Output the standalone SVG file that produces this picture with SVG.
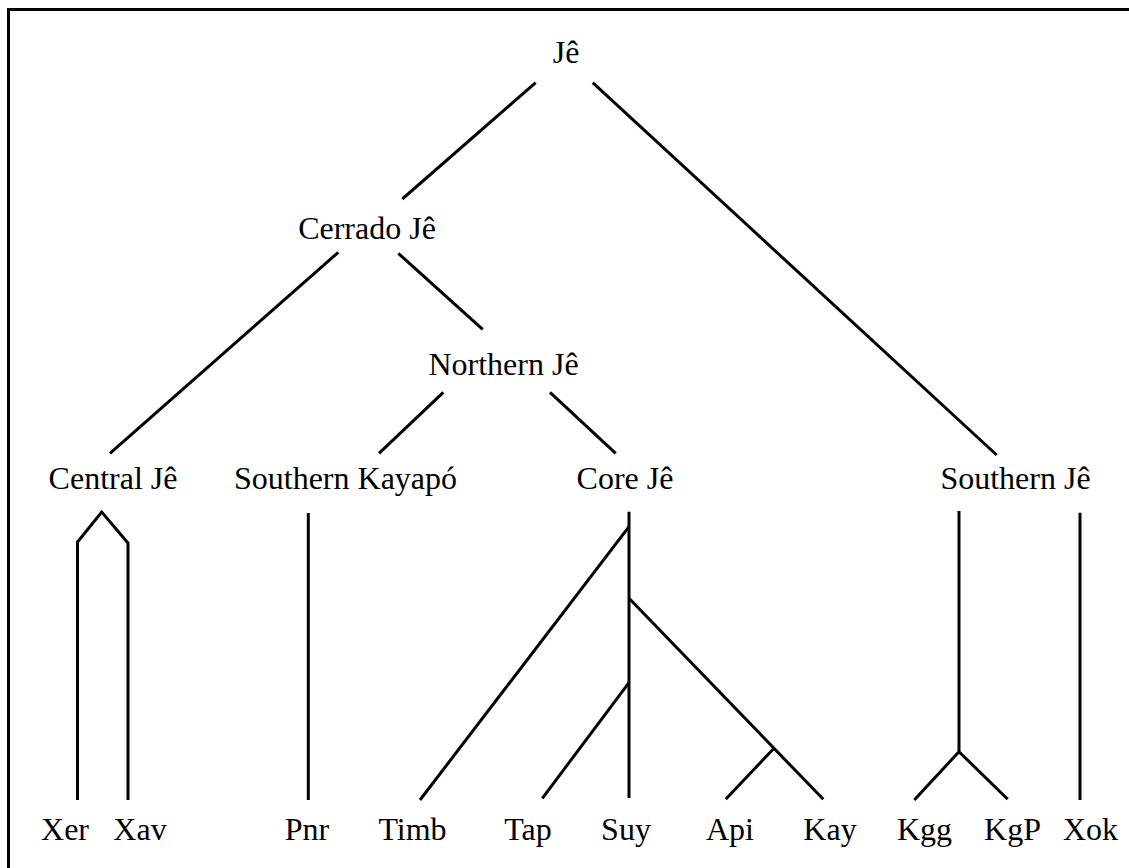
<svg xmlns="http://www.w3.org/2000/svg" width="1129" height="868" viewBox="0 0 1129 868">
<style>
.e{fill:none;stroke:#000;stroke-width:3;stroke-linecap:butt;stroke-linejoin:miter}
.frame{fill:none;stroke:#000;stroke-width:3}
</style>
<rect width="1129" height="868" fill="#fff"/>
<path class="frame" d="M8.5,870 V9.5 H1132"/>
<g id="connectors">
<line class="e" x1="535.7" y1="82.7" x2="402.3" y2="199"/>
<line class="e" x1="592.7" y1="82.7" x2="996.7" y2="455"/>
<line class="e" x1="338.3" y1="252.3" x2="110" y2="453.3"/>
<line class="e" x1="398.3" y1="253.3" x2="482.7" y2="329.3"/>
<line class="e" x1="443.3" y1="392.3" x2="379" y2="453.3"/>
<line class="e" x1="550" y1="392.3" x2="615.7" y2="453.3"/>
<path class="e" d="M77.5,800 V542 L101.7,512 L128,543 V800"/>
<line class="e" x1="308.3" y1="513" x2="308.3" y2="800"/>
<line class="e" x1="629" y1="511.7" x2="629" y2="798"/>
<line class="e" x1="629" y1="526.7" x2="420" y2="800"/>
<line class="e" x1="629" y1="682.7" x2="542.3" y2="798.3"/>
<line class="e" x1="629" y1="598.3" x2="823.3" y2="799.3"/>
<line class="e" x1="773.3" y1="749" x2="725.7" y2="799.3"/>
<path class="e" d="M959,511 V751.7 L914.3,800 M959,751.7 L1007.7,799.3"/>
<line class="e" x1="1080" y1="512.7" x2="1080" y2="800"/>
</g>
<g font-family="Liberation Serif, Times New Roman, DejaVu Serif, serif" font-size="32" fill="#000" text-anchor="middle">
<g id="n-je"><text x="566" y="63">Jê</text></g>
<g id="n-cerrado"><text x="367" y="239">Cerrado Jê</text></g>
<g id="n-northern"><text x="503.5" y="375">Northern Jê</text></g>
<g id="n-central"><text x="113" y="489">Central Jê</text></g>
<g id="n-skayapo"><text x="345.5" y="489">Southern Kayapó</text></g>
<g id="n-core"><text x="625" y="489">Core Jê</text></g>
<g id="n-southern"><text x="1015.5" y="489">Southern Jê</text></g>
<g id="n-xer"><text x="65" y="840">Xer</text></g>
<g id="n-xav"><text x="140" y="840">Xav</text></g>
<g id="n-pnr"><text x="307" y="840">Pnr</text></g>
<g id="n-timb"><text x="412.5" y="840">Timb</text></g>
<g id="n-tap"><text x="528" y="840">Tap</text></g>
<g id="n-suy"><text x="626" y="840">Suy</text></g>
<g id="n-api"><text x="730" y="840">Api</text></g>
<g id="n-kay"><text x="830" y="840">Kay</text></g>
<g id="n-kgg"><text x="924.5" y="840">Kgg</text></g>
<g id="n-kgp"><text x="1012.5" y="840">KgP</text></g>
<g id="n-xok"><text x="1090.5" y="840">Xok</text></g>
</g>
</svg>
